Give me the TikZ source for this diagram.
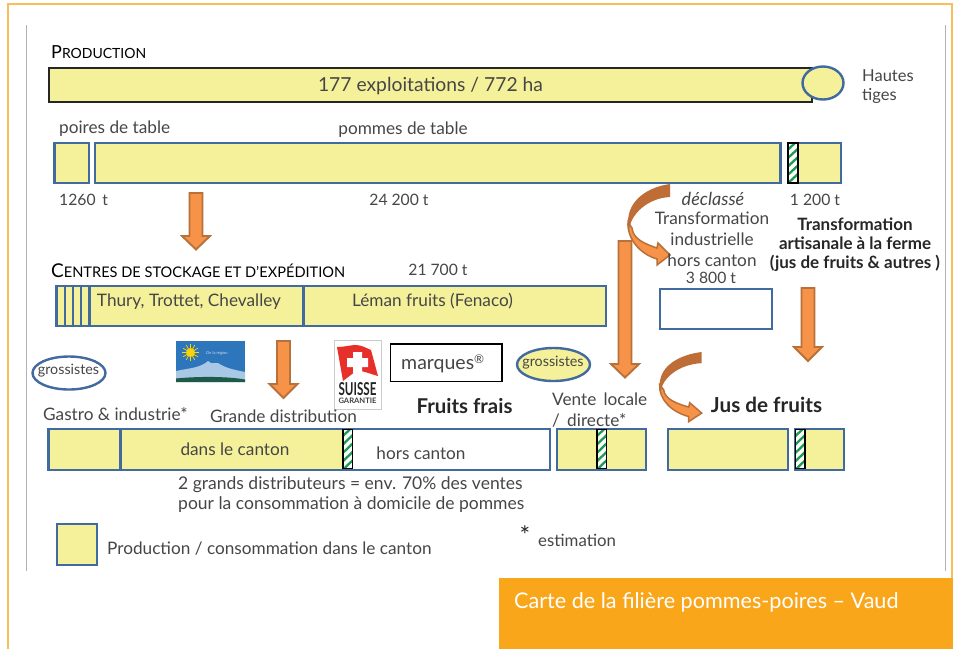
\documentclass[tikz,border=0pt]{standalone}
\usepackage{fontspec}
\usepackage{graphicx}
\usetikzlibrary{calc,shapes.geometric}
\setmainfont{Lato}
\definecolor{barfill}{HTML}{F5F19A}
\definecolor{barline}{HTML}{416A9E}
\definecolor{txt}{HTML}{464646}
\definecolor{frameor}{HTML}{F9BE5C}
\definecolor{banner}{HTML}{FAA61A}
\definecolor{arrfill}{HTML}{F79249}
\definecolor{arrline}{HTML}{B8713A}
\definecolor{arrdark}{HTML}{BD6D35}
\definecolor{hatchgreen}{HTML}{1E9B50}
\definecolor{logoblue}{HTML}{2E76BC}
\definecolor{logomtn}{HTML}{A9C8E6}
\definecolor{logogreen}{HTML}{1D5A48}
\definecolor{logored}{HTML}{E8302A}
\newcommand\fsz[1]{\fontsize{#1}{#1}\selectfont}
\tikzset{
  lbl/.style={text=txt,inner sep=0pt,font=\fsz{17.2}},
  lbll/.style={lbl,anchor=west},
  numlbl/.style={lbl,font=\fsz{15.7}},
  boldlbl/.style={inner sep=0pt,text=black!85,font=\fsz{17}\bfseries},
  titlelbl/.style={anchor=west,inner sep=0pt,text=black},
  barbox/.style={draw=barline,line width=2.5pt,fill=barfill,inner sep=0pt},
  whitebox/.style={draw=barline,line width=2.5pt,fill=white,inner sep=0pt},
  ellbox/.style={ellipse,draw=barline,line width=2.4pt,inner sep=0pt,outer sep=0pt},
  hatchbox/.style={draw=black,line width=1.3pt},
  blockarr/.style={fill=arrfill,draw=arrline,line width=1.9pt,line join=miter},
}
% box as a named node from its corners
\newcommand\boxn[6]{%
  \pgfmathsetmacro\bw{#4-#2}\pgfmathsetmacro\bh{#5-#3}%
  \pgfmathsetmacro\bx{(#4+#2)/2}\pgfmathsetmacro\by{(#5+#3)/2}%
  \node[#6,minimum width=\bw pt,minimum height=\bh pt,outer sep=0pt] (#1) at (\bx,\by) {};}
% straight block arrow
\newcommand\blockarrow[5]{%
  \coordinate (#1-a) at (#2,#3);\coordinate (#1-b) at (#2,#5);
  \draw[blockarr] ($(#1-a)+(-6.5,0)$) -- ($(#1-a)+(6.5,0)$) -- (#2+6.5,#4) -- (#2+14,#4) -- (#1-b) -- (#2-14,#4) -- (#2-6.5,#4) -- cycle;}
% hatched strip
\newcommand\hatchstrip[4]{%
  \begin{scope}
    \clip (#1,#3) rectangle (#2,#4);
    \fill[white] (#1,#3) rectangle (#2,#4);
    \foreach \k in {0,8.4,...,60} {\draw[hatchgreen,line width=2.3pt] (#1-2,#3+\k) -- (#2+2,#3+\k-13);}
  \end{scope}
  \draw[hatchbox] (#1,#3) rectangle (#2,#4);}
% curved block arrow, drawn in local coordinates (origin at its top end)
\newcommand\curvedarrow[3]{%
  \begin{scope}[shift={(#1,#2)},yscale=#3]
    \fill[arrfill,draw=arrline,line width=1.5pt] (-42,38) .. controls (-43,55) and (-30,70) .. (-13,75)
      -- (-13,81) -- (0,71) -- (-12,59) -- (-13,64) .. controls (-25,60) and (-37,55) .. (-38,44) -- cycle;
    \fill[arrdark] (0,0) .. controls (-22,3) and (-42,16) .. (-42,38) -- (-41,47)
      .. controls (-40,30) and (-22,14) .. (0,13) -- cycle;
  \end{scope}}
\begin{document}
\begin{tikzpicture}[x=1pt,y=-1pt]
\useasboundingbox (0,0) rectangle (960,649);
\fill[white] (0,0) rectangle (960,649);
% frame and margins
\draw[frameor,line width=1.4pt] (7.8,649) -- (7.8,4) -- (952,4) -- (952,580);
\draw[black!30,line width=.8pt] (26.5,25) -- (26.5,571);
\draw[black!30,line width=.8pt] (945.7,25) -- (945.7,571);
% banner
\boxn{bannerbox}{499}{578}{953}{649}{fill=banner}
\node[anchor=west,inner sep=0pt,text=white,font=\fsz{21.6}] (bannertext) at (514,602) {Carte de la filière pommes-poires – Vaud};
% production
\node[titlelbl] (prodtitle) at (51,52) {{\fsz{18}P}{\fsz{14}RODUCTION}};
\boxn{prodbar}{49}{68}{812}{102}{draw=black!85,line width=1.5pt,fill=barfill,inner sep=0pt}
\node[lbl,font=\fsz{19.3}] (prodtext) at (430.5,86) {177 exploitations / 772 ha};
\node[ellbox,fill=barfill,minimum width=41pt,minimum height=33pt] (hautes) at (823,83) {};
\node[lbll,font=\fsz{16.5}] (hautes1) at (862,75.5) {Hautes};
\node[lbll,font=\fsz{16.5}] (hautes2) at (862,96) {tiges};
% row 2
\node[lbll] (poireslbl) at (59,128.5) {poires de table};
\node[lbl] (pommeslbl) at (403,129.5) {pommes de table};
\boxn{poires}{54.5}{143}{89}{183}{barbox}
\boxn{pommes}{95}{143}{780.5}{183}{barbox}
\boxn{artis}{788}{143}{841}{183}{barbox}
\hatchstrip{788}{798}{143}{183}
\node[numlbl,anchor=west] (t1260) at (59,199.5) {1260\, t};
\node[numlbl] (t24200) at (399,199.5) {24 200 t};
\node[lbl,font=\fsz{18}\itshape] (declasse) at (713,198.5) {déclassé};
\node[lbl] (tr1) at (712,218.5) {Transformation};
\node[lbl] (tr2) at (712,239.5) {industrielle};
\node[numlbl] (t1200) at (815,199.5) {1 200 t};
\node[boldlbl] (art1) at (855,224) {Transformation};
\node[boldlbl] (art2) at (855,243.5) {artisanale à la ferme};
\node[boldlbl] (art3) at (855,263) {(jus de fruits \& autres )};
% arrow production to centres
\blockarrow{a1}{196}{193}{236}{249.5}
% centres
\node[titlelbl] (centrestitle) at (51,271) {{\fsz{19}C}{\fsz{14.6}ENTRES DE STOCKAGE ET D’EXPÉDITION}};
\node[numlbl] (t21700) at (438,269.5) {21 700 t};
\boxn{centres}{56.5}{286}{606}{326}{barbox}
\foreach \xx in {65,73,81,89.5,303.5} {\draw[barline,line width=2.2pt] (\xx,286) -- (\xx,326);}
\node[lbl] (thury) at (189,301.5) {Thury, Trottet, Chevalley};
\node[lbl] (leman) at (432.5,301.5) {Léman fruits (Fenaco)};
\boxn{indus}{660}{289}{772}{329}{whitebox}
\curvedarrow{670}{184}{1}
\node[lbl] (tr3) at (712,260.5) {hors canton};
\node[numlbl] (t3800) at (711,277.5) {3 800 t};
% arrows
\blockarrow{a2}{283.5}{341}{384}{398}
\blockarrow{a3}{625}{241}{364}{377.5}
\blockarrow{a4}{808}{288}{347}{361}
\curvedarrow{701.7}{352}{0.86}
% logo 1
\boxn{logoa}{176}{341}{245}{382}{fill=logoblue}
\begin{scope}
  \fill[logomtn] (176,371) .. controls (190,368) and (200,368) .. (208,361) -- (211,363) -- (218,363) .. controls (225,368) and (235,370) .. (245,372) -- (245,382) -- (176,382) -- cycle;
  \fill[logogreen] (176,378.5) .. controls (195,376.5) and (225,376) .. (245,379.5) -- (245,382) -- (176,382) -- cycle;
  \fill[yellow!65!orange] (190.5,352.5) circle (4.5);
  \foreach \aa in {0,30,...,330} {\draw[yellow!75!orange,line width=.7pt] (190.5,352.5) -- ++(\aa:8.5);}
\end{scope}
\node[inner sep=0pt,text=white!75!logoblue,font=\fsz{4}] (logoatext) at (217,353.5) {De la région};
% logo 2
\boxn{logob}{334.5}{340}{381}{409}{fill=white,draw=black!20,line width=1pt}
\fill[logored] (337,347) .. controls (345,347) and (350,345) .. (356,345) .. controls (362,345) and (368,349) .. (371,350) -- (378,376) .. controls (370,374) and (362,370) .. (356,371) -- (343,381) -- cycle;
\fill[white] (353,352) -- (362,352) -- (362,358) -- (368,358) -- (368,367) -- (362,367) -- (362,373) -- (353,373) -- (353,367) -- (347,367) -- (347,358) -- (353,358) -- cycle;
\node[inner sep=0pt,text=black!85] (suisse) at (357.5,389.5) {\resizebox{38pt}{13pt}{\bfseries SUISSE}};
\node[inner sep=0pt,text=black!75] (garantie) at (357.5,401) {\resizebox{38pt}{5.5pt}{\bfseries GARANTIE}};
% marques
\boxn{marques}{390.5}{344}{502}{381.5}{draw=black,line width=1.3pt,fill=white}
\node[lbll,font=\fsz{19.5}] (marqueslbl) at (401,364) {marques\raisebox{6pt}{\fsz{12}®}};
% grossistes
\node[ellbox,fill=white,minimum width=73pt,minimum height=33pt] (gros1) at (69,373) {};
\node[lbl,font=\fsz{14.3}] (gros1t) at (68.5,370.5) {grossistes};
\node[ellbox,fill=barfill,minimum width=73pt,minimum height=33pt] (gros2) at (553.5,364.5) {};
\node[lbl,font=\fsz{14.3}] (gros2t) at (553,362.5) {grossistes};
% headings
\node[boldlbl,font=\fsz{20.4}\bfseries] (fruitsfrais) at (464.5,406.5) {Fruits frais};
\node[boldlbl,font=\fsz{20.7}\bfseries] (jus) at (766.5,404.5) {Jus de fruits};
\node[lbll] (gastro) at (43,414.5) {Gastro \& industrie*};
\node[lbl] (grande) at (283.5,416.5) {Grande distribution};
\node[lbll] (vente1) at (552,399.5) {Vente\, locale};
\node[lbll] (vente2) at (552,420.5) {/\, directe*};
% row 4
\boxn{fraisall}{48.5}{429}{550}{470}{whitebox}
\boxn{gastrob}{48.5}{429}{120.5}{470}{barbox}
\boxn{grandeb}{120.5}{429}{343}{470}{barbox}
\hatchstrip{343}{352.5}{429.5}{468.5}
\node[lbl] (dans) at (235,449.5) {dans le canton};
\node[lbl] (hors) at (421,453.5) {hors canton};
\boxn{venteb}{557}{429}{646}{470}{barbox}
\hatchstrip{597}{606.5}{429.5}{468.5}
\boxn{jusa}{668}{429}{788}{470}{barbox}
\boxn{jusb}{795.5}{429}{844}{470}{barbox}
\hatchstrip{795.5}{805}{429.5}{468.5}
% notes
\node[lbll,font=\fsz{17.5}] (note1) at (178,484.5) {2 grands distributeurs = env. 70\% des ventes};
\node[lbll,font=\fsz{17.5}] (note2) at (178,505) {pour la consommation à domicile de pommes};
\boxn{legend}{57}{524}{97}{565}{barbox}
\node[lbll] (legendt) at (107,548.5) {Production / consommation dans le canton};
\node[inner sep=0pt,text=black!85,font=\fsz{25}] (star) at (525,535) {*};
\node[lbll,font=\fsz{16.8}] (estim) at (538,540.5) {estimation};
\end{tikzpicture}
\end{document}
